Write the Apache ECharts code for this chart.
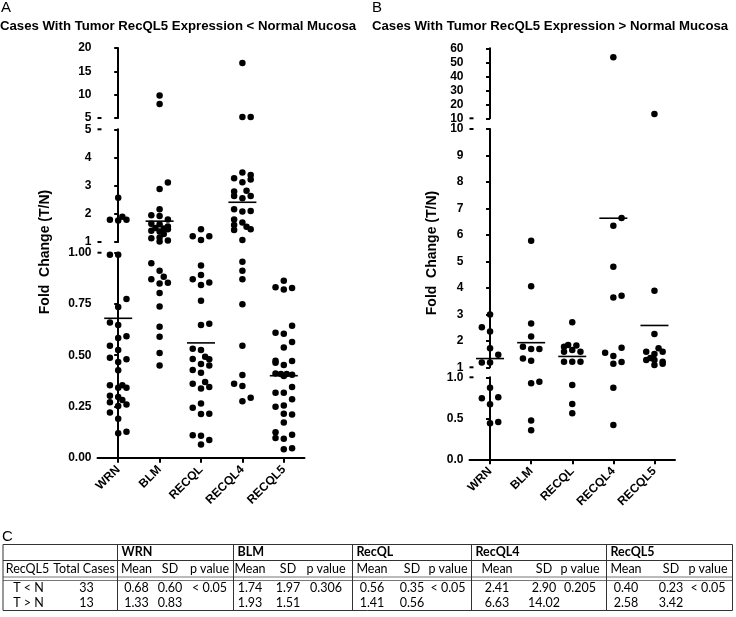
<!DOCTYPE html>
<html><head><meta charset="utf-8">
<script src="https://cdn.jsdelivr.net/npm/echarts@6/dist/echarts.min.js"></script>
<style>html,body{margin:0;padding:0;background:#fff}#c{width:736px;height:617px}</style>
</head><body><div id="c"></div><script>
const categories = ['WRN', 'BLM', 'RECQL', 'RECQL4', 'RECQL5'];

// Panel A (T < N): fold change per case, and horizontal scatter spread (category units)
const aWRN     = [2.57,1.79,1.76,1.90,1.79,0.99,0.99,0.774,0.735,0.659,0.647,0.584,0.592,0.546,0.525,0.488,0.467,0.480,0.426,0.354,0.341,0.354,0.341,0.302,0.296,0.281,0.270,0.252,0.260,0.221,0.190,0.119,0.127];
const aWRNjit  = [0,-0.2,0,0.1,0.2,-0.2,0,0.2,0,-0.2,0,0,0.2,-0.2,0,-0.2,0,0.2,0,-0.2,0,0.1,0.2,-0.2,0,0.1,-0.2,0,0.2,-0.2,0,0,0.2];
const aBLM     = [9.8,8.0,3.11,2.88,2.16,1.95,1.92,1.80,1.65,1.63,1.55,1.50,1.48,1.45,1.40,1.37,1.28,1.16,1.13,1.05,1.02,0.948,0.912,0.883,0.870,0.850,0.854,0.803,0.738,0.639,0.590,0.511,0.450];
const aBLMjit  = [0,0,0.2,0,0,-0.2,0,0.2,-0.2,0,0.2,-0.1,0.1,0.2,-0.2,0,0.1,0,-0.2,0.2,0,-0.2,0,0.1,-0.2,0,0.2,0,0,0,0,0,0];
const aRECQL   = [1.45,1.20,1.07,1.20,0.937,0.891,0.870,0.842,0.855,0.766,0.647,0.654,0.532,0.525,0.481,0.493,0.480,0.457,0.450,0.428,0.415,0.361,0.369,0.338,0.345,0.244,0.265,0.213,0.215,0.109,0.107,0.086,0.065];
const aRECQLjit= [0,-0.2,0,0.2,0,0,-0.2,0,0.2,0,0,0.2,-0.2,0,-0.2,0.1,0.2,0,0.2,-0.2,0,-0.2,0.1,0,0.2,-0.2,0,0,0.2,-0.2,0,0.2,0];
const aRECQL4  = [16.8,5.2,5.2,3.47,3.38,3.26,3.22,3.12,2.79,2.82,2.63,2.55,2.63,2.16,2.08,2.10,1.80,1.60,1.69,1.54,1.43,1.45,1.07,0.956,0.912,0.870,0.748,0.546,0.403,0.361,0.350,0.293,0.275];
const aRECQL4jit=[0,0,0.2,0,0.2,-0.2,0.2,0,-0.2,0.1,-0.2,0,0.2,-0.2,0,0.2,-0.2,-0.2,0,0.1,-0.2,0.2,0,0,0,0,0,0,0,-0.2,0,0.2,0];
const aRECQL5  = [0.863,0.831,0.821,0.828,0.644,0.610,0.605,0.564,0.538,0.473,0.463,0.472,0.452,0.411,0.408,0.408,0.405,0.398,0.345,0.317,0.317,0.285,0.249,0.255,0.211,0.215,0.172,0.124,0.096,0.093,0.112,0.041,0.046];
const aRECQL5jit=[0,-0.2,0,0.2,0.2,-0.2,0,0.2,0,-0.2,-0.2,0.2,0,-0.2,-0.07,0.07,0.2,0,0.2,-0.2,0,0.2,-0.2,0,0.2,0,0,-0.2,-0.2,0,0.2,0,0.2];

// Panel B (T > N)
const bWRN     = [2.99,2.51,2.35,1.72,1.47,1.18,1.18,0.874,0.744,0.756,0.671,0.439,0.455];
const bWRNjit  = [0,-0.2,0,0,0.2,-0.2,0,0,-0.2,0.2,0,0,0.2];
const bBLM     = [5.78,4.06,2.65,2.16,1.78,1.69,1.69,1.33,1.25,0.927,0.947,0.472,0.354];
const bBLMjit  = [0,0,0,0,-0.2,0,0.2,-0.2,0,0,0.2,0,0];
const bRECQL   = [2.70,1.78,1.84,1.82,1.59,1.65,1.59,1.21,1.21,1.21,0.907,0.675,0.561];
const bRECQLjit= [0,-0.2,-0.1,0.1,-0.2,0,0.2,-0.2,0,0.2,0,0,0];
const bRECQL4  = [53.6,6.64,6.35,4.80,3.64,3.70,1.55,1.74,1.43,1.13,1.20,0.874,0.419];
const bRECQL4jit=[0,0.2,0,0,0,0.2,-0.2,0.2,0,0,0.2,0,0];
const bRECQL5  = [13.1,3.89,2.26,1.59,1.72,1.50,1.59,1.28,1.35,1.28,1.21,1.09,1.13];
const bRECQL5jit=[0,0,0,-0.2,0.1,0,0.2,-0.2,-0.1,0,0.2,0,0.2];

// Table C
const tableGenes = ['WRN', 'BLM', 'RecQL', 'RecQL4', 'RecQL5'];
const rowLabels = ['T < N', 'T > N'];
const totalCases = [33, 13];
const meanLess = [0.68, 1.74, 0.56, 2.41, 0.40];
const sdLess   = [0.60, 1.97, 0.35, 2.90, 0.23];
const pLess    = ['< 0.05', '0.306', '< 0.05', '0.205', '< 0.05'];
const meanMore = [1.33, 1.93, 1.41, 6.63, 2.58];
const sdMore   = [0.83, 1.51, 0.56, 14.02, 3.42];

// Broken-axis segments [min, max, interval]
const aSegRanges = [[5, 20, 5], [1, 5, 1], [0, 1, 0.25]];
const bSegRanges = [[10, 60, 10], [1, 10, 1], [0, 1, 0.5]];

const FONT = '"Liberation Sans", Arial, Helvetica, sans-serif';
const aData = [[aWRN,aWRNjit],[aBLM,aBLMjit],[aRECQL,aRECQLjit],[aRECQL4,aRECQL4jit],[aRECQL5,aRECQL5jit]];
const bData = [[bWRN,bWRNjit],[bBLM,bBLMjit],[bRECQL,bRECQLjit],[bRECQL4,bRECQL4jit],[bRECQL5,bRECQL5jit]];

// layout of segments
const aLayout = {left: 97.5, width: 207, boxes: [[48, 70], [129.3, 112.7], [252.7, 205]], dec: [0, 0, 2]};
const bLayout = {left: 469.5, width: 205.5, boxes: [[48.3, 70], [129, 238.3], [377.3, 82]], dec: [0, 0, 1]};

const grid = [], xAxis = [], yAxis = [], series = [];
const graphic = [];
function segOf(v, ranges) {
  if (v > ranges[0][0]) return 0;
  if (v > ranges[1][0]) return 1;
  return 2;
}
function buildPanel(lay, ranges, data, means) {
  const g0 = grid.length;
  for (let s = 0; s < 3; s++) {
    const gi = g0 + s;
    grid.push({left: lay.left, top: lay.boxes[s][0], width: lay.width, height: lay.boxes[s][1], containLabel: false});
    xAxis.push({type: 'value', gridIndex: gi, min: -0.5, max: 4.5, show: false});
    const dec = lay.dec[s];
    yAxis.push({
      type: 'value', gridIndex: gi, min: ranges[s][0], max: ranges[s][1], interval: ranges[s][2],
      axisLine: {show: true, lineStyle: {color: '#000', width: 2}},
      axisTick: {show: true, length: 4, lineStyle: {color: '#000', width: 2}},
      axisLabel: {color: '#000', fontFamily: FONT, fontWeight: 'bold', fontSize: 12, margin: 6,
        showMinLabel: true, showMaxLabel: true, formatter: v => v.toFixed(dec)},
      splitLine: {show: false}
    });
    const pts = [];
    data.forEach((d, ci) => {
      d[0].forEach((v, k) => { if (segOf(v, ranges) === s) pts.push([ci + d[1][k], v]); });
    });
    series.push({type: 'scatter', xAxisIndex: gi, yAxisIndex: gi, data: pts, symbolSize: 6.5,
      itemStyle: {color: '#000', opacity: 1}, silent: true, animation: false});
    const mp = [];
    means.forEach((m, ci) => { if (segOf(m, ranges) === s) mp.push([ci, m]); });
    series.push({type: 'scatter', xAxisIndex: gi, yAxisIndex: gi, data: mp, symbol: 'rect', symbolSize: [28, 1.6],
      itemStyle: {color: '#000', opacity: 1}, silent: true, animation: false});
    // axis-break caps (right-hand stub at broken ends)
    const yT = lay.boxes[s][0], yB = lay.boxes[s][0] + lay.boxes[s][1];
    if (s > 0) graphic.push({type: 'line', silent: true, shape: {x1: lay.left, y1: yT, x2: lay.left + 4, y2: yT}, style: {stroke: '#000', lineWidth: 2}});
    if (s < 2) graphic.push({type: 'line', silent: true, shape: {x1: lay.left, y1: yB, x2: lay.left + 4, y2: yB}, style: {stroke: '#000', lineWidth: 2}});
  }
  return g0 + 2;
}
const aBottom = buildPanel(aLayout, aSegRanges, aData, meanLess);
const bBottom = buildPanel(bLayout, bSegRanges, bData, meanMore);
[aBottom, bBottom].forEach(gi => {
  xAxis.push({
    type: 'category', gridIndex: gi, data: categories, boundaryGap: true, position: 'bottom',
    axisLine: {show: true, lineStyle: {color: '#000', width: 2}},
    axisTick: {show: true, alignWithLabel: true, length: 5, lineStyle: {color: '#000', width: 2}},
    axisLabel: {rotate: 45, color: '#000', fontFamily: FONT, fontWeight: 'bold', fontSize: 12, margin: 10, interval: 0}
  });
});

// graphics: titles, labels, table
function txt(x, y, text, opt) {
  graphic.push(Object.assign({type: 'text', x: x, y: y, silent: true,
    style: Object.assign({text: text, fill: '#000', font: '12px ' + FONT, textAlign: 'left', textVerticalAlign: 'middle'}, opt && opt.style || {})},
    opt && opt.rotation ? {rotation: opt.rotation} : {}));
}
txt(1, 8, 'A', {style: {font: '15px ' + FONT}});
txt(372, 8, 'B', {style: {font: '15px ' + FONT}});
txt(0, 26, 'Cases With Tumor RecQL5 Expression < Normal Mucosa', {style: {font: 'bold 13.2px ' + FONT}});
txt(372, 26, 'Cases With Tumor RecQL5 Expression > Normal Mucosa', {style: {font: 'bold 13.2px ' + FONT}});
txt(45, 252, 'Fold  Change (T/N)', {rotation: Math.PI / 2, style: {font: 'bold 14px ' + FONT, textAlign: 'center'}});
txt(432, 253, 'Fold  Change (T/N)', {rotation: Math.PI / 2, style: {font: 'bold 14px ' + FONT, textAlign: 'center'}});
txt(2, 537, 'C', {style: {font: '15px ' + FONT}});

const TF = 'Lato, "Open Sans", sans-serif';
function line(x1, y1, x2, y2, color, w) {
  graphic.push({type: 'line', silent: true, shape: {x1, y1, x2, y2}, style: {stroke: color, lineWidth: w}});
}
const colX = [3, 117.5, 233.5, 352.5, 471.5, 606.5, 732.5];
line(3, 544.5, 732.5, 544.5, '#333', 1);
line(3, 560.5, 732.5, 560.5, '#333', 1);
line(3, 577, 732.5, 577, '#777', 1);
line(3, 580.5, 732.5, 580.5, '#777', 1);
line(3, 610.5, 732.5, 610.5, '#333', 1);
colX.forEach(x => line(x, 544.5, x, 610.5, '#333', 1));
const subX = [[136.5, 170, 209.5], [250, 288, 326], [372, 412, 448], [497, 544, 580], [626, 671, 708]];
const yHead = 552, ySub = 568.5, yR1 = 587.5, yR2 = 603;
const tStyle = a => ({font: '12.5px ' + TF, textAlign: a || 'center'});
txt(27.5, ySub, 'RecQL5', {style: tStyle()});
txt(84, ySub, 'Total Cases', {style: tStyle()});
rowLabels.forEach((r, i) => {
  const y = i === 0 ? yR1 : yR2;
  txt(28.5, y, r, {style: tStyle()});
  txt(86.5, y, String(totalCases[i]), {style: tStyle()});
});
tableGenes.forEach((g, gi) => {
  txt(colX[gi + 1] + 4, yHead, g, {style: {font: 'bold 12.5px ' + TF, textAlign: 'left'}});
  txt(subX[gi][0], ySub, 'Mean', {style: tStyle()});
  txt(subX[gi][1], ySub, 'SD', {style: tStyle()});
  txt(subX[gi][2], ySub, 'p value', {style: tStyle()});
  txt(subX[gi][0], yR1, meanLess[gi].toFixed(2), {style: tStyle()});
  txt(subX[gi][1], yR1, sdLess[gi].toFixed(2), {style: tStyle()});
  txt(subX[gi][2], yR1, pLess[gi], {style: tStyle()});
  txt(subX[gi][0], yR2, meanMore[gi].toFixed(2), {style: tStyle()});
  txt(subX[gi][1], yR2, sdMore[gi].toFixed(2), {style: tStyle()});
});

const chart = echarts.init(document.getElementById('c'), null, {renderer: 'canvas'});
chart.setOption({animation: false, backgroundColor: '#fff', grid, xAxis, yAxis, series, graphic});
</script></body></html>
